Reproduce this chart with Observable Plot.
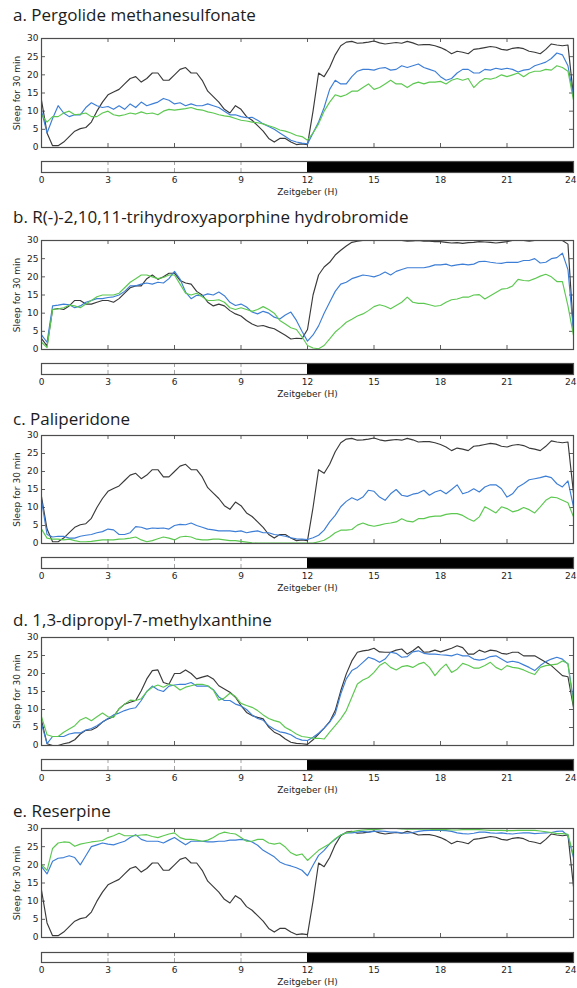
<!DOCTYPE html>
<html><head><meta charset="utf-8">
<script src="https://cdn.jsdelivr.net/npm/d3@7"></script>
<script src="https://cdn.jsdelivr.net/npm/@observablehq/plot@0.6"></script>
<style>
body{margin:0;background:#fff;}
#chart{position:relative;width:577px;height:988px;overflow:hidden;background:#fff;}
.title{position:absolute;left:13px;font-family:"Open Sans",sans-serif;font-size:17px;line-height:22px;color:#1c1c1c;white-space:nowrap;}
.plot{position:absolute;left:0;}
</style></head><body><div id="chart"></div>
<script>
// Zeitgeber time (h)
const hours = [
 0,0.25,0.5,0.75, 1,1.25,1.5,1.75, 2,2.25,2.5,2.75, 3,3.25,3.5,3.75,
 4,4.25,4.5,4.75, 5,5.25,5.5,5.75, 6,6.25,6.5,6.75, 7,7.25,7.5,7.75,
 8,8.25,8.5,8.75, 9,9.25,9.5,9.75, 10,10.25,10.5,10.75, 11,11.25,11.5,11.75,
 12,12.25,12.5,12.75, 13,13.25,13.5,13.75, 14,14.25,14.5,14.75, 15,15.25,15.5,15.75,
 16,16.25,16.5,16.75, 17,17.25,17.5,17.75, 18,18.25,18.5,18.75, 19,19.25,19.5,19.75,
 20,20.25,20.5,20.75, 21,21.25,21.5,21.75, 22,22.25,22.5,22.75, 23,23.25,23.5,23.75, 24];
const xTicks = [0,3,6,9,12,15,18,21,24];
const yTicks = [0,5,10,15,20,25,30];
const phases = [{start:0,end:12,dark:false},{start:12,end:24,dark:true}];

// control (black) shared by panels a, c, e
const control = [
 13,4,0.5,0.5, 1.5,3,4.5,5.2, 5.5,7,10,12.5, 14.5,15.3,16,17.5,
 19,19.5,18,19, 20.5,20.5,18.5,18.5, 20,21.5,22,20.5, 20.5,18.5,15.5,14,
 12.5,10.5,9.5,11.5, 10.5,8.5,7.5,6, 4.5,2.5,1.5,2.5, 2.5,1.5,0.8,1,
 0.8,10,20.5,19.5, 22,25.5,28,29, 29.2,28.7,28.8,29, 29.3,28.8,28.5,28.7,
 28.9,28.7,29.2,28.8, 28.2,28.3,28.3,28, 27.5,26.8,25.8,26.5, 26.2,25.8,27,27.2,
 27.5,27.8,27.6,27, 26.8,27.3,27.5,27.2, 26.5,26.2,25.8,27, 28.5,28.2,28,28.2, 14];
const pergolideBlue = [
 10,4,8,11.5, 9.5,8.5,9,9, 11,12.3,11.5,11, 11.3,10.5,11.5,10.5,
 12,11,12.5,11.5, 12,12.5,13.5,13, 12,12.3,11.5,12, 11.5,11.5,12,11.5,
 11,10,9,9, 8.5,8.2,8.3,7.5, 6.5,5.8,5,4, 3,2,1.5,1.2,
 1,4,7,11, 16,18.5,17.5,17.5, 19.5,21,21.5,21.5, 21.3,21.8,22,21.3,
 21.5,22.5,22,22.5, 23,22,21.5,21, 19.5,18.5,19,20.5, 21.5,21.5,20.5,20.5,
 21.5,21.3,21.8,21.5, 21.8,21.5,20.8,21.3, 21.5,22.5,23,23.5, 24.5,26,25.5,22.5, 14];
const pergolideGreen = [
 9,7,8.5,8.5, 9.5,10,9,9.2, 9.5,8.5,8.5,9.5, 10,9,8.7,9,
 9.5,9.2,9.8,9.3, 9.5,9,10,10.5, 10.3,10.5,10.7,11, 10.5,10.3,9.8,9.5,
 9,8.7,8.5,8, 7.5,7.3,7,6.8, 6.5,6,5.5,4.8, 4.5,4,3.3,3,
 2,4,6.5,10, 12.5,14.5,14,14.5, 15.5,15.5,16.5,17.5, 16,16.5,17.5,18.5,
 17.5,17.5,16.5,17.5, 18,17.5,18,18, 18.2,17.5,18.5,19, 18.5,19,16.5,18,
 19,18.8,19.2,20, 19.5,20,20.5,19.5, 20.5,21,21,21.5, 21.3,22.5,22,21, 13];
const aporphineBlack = [
 3,1,11,11.3, 11,12,13.5,13.5, 12.5,12.5,13,13.5, 13.5,13,14,15.5,
 17,17.5,17.5,19.5, 20.5,19.3,20,21, 21,19,18.3,18, 16,15,13,12,
 12.5,12,10.7,9.8, 9.2,8,7,6.4, 6.6,6.1,5.7,4.8, 3.9,2.9,3.1,3,
 5.5,15,20.5,22.7, 24,26,27.3,28.5, 29.5,29.8,30,30, 30,30,30,30,
 30,30,29.8,29.9, 30,29.8,29.8,29.7, 29.7,29.5,29.3,29.4, 29.2,29.4,29.5,29.7,
 29.6,29.5,29.3,29.5, 29.7,30,30,30, 29.8,30,30,30, 30,30,30,29, 5];
const aporphineBlue = [
 4,2,12,12.2, 12.5,12.3,11.5,12, 13,13.5,14,14, 14.3,14.5,15,16,
 17.5,17.5,18,18.3, 18,18.5,18.3,19.5, 21.5,19.4,15.8,14, 14.9,14.8,15.3,15,
 15.8,14.8,13,12.1, 12.5,11.7,10.3,9.8, 10.5,10,8.9,8.4, 9.5,10.3,8,5,
 2.3,4,6.5,10, 13,16,18,18.5, 19.5,20,20.5,20.3, 20,20.5,21.3,20.5,
 21.5,22,22.5,22.5, 22.5,22.5,22.8,23.3, 23.3,23.5,23,23.3, 23.5,23.3,23.5,24.2,
 24.3,24,23.8,23.7, 24,24,24,24.5, 24.5,25,23.8,24, 25,25.3,26.5,22, 5];
const aporphineGreen = [
 2,0.5,11,11.2, 11.5,12.2,12,11.5, 12.5,13.5,14.5,15, 15,15,15.5,17,
 18.5,19.5,20.5,20.5, 20,19.5,19.8,20.5, 20.5,18,15.5,15, 15.5,14.5,13.5,13.5,
 13.7,13,11.5,11, 11.5,11,10.5,11, 11.8,11,10,8, 7,6,5.5,3.5,
 1.1,0.4,0.2,1.1, 2.9,4.8,6.1,7.5, 8.3,9.2,9.8,10.7, 11.8,12.3,11.9,11.2,
 12.1,13,14.4,13, 12.7,12.7,12.3,11.9, 12.1,13,13.7,13.9, 14.4,14.4,15,15.1,
 13.9,14.8,15.7,16.6, 16.8,17.5,19.3,19, 18.9,19.5,20.2,20.7, 20,18.7,18.7,12, 3.9];
const paliperidoneBlue = [
 12,2.5,1.8,2, 2,1.5,1.5,2, 2.3,2.5,3,3.3, 4,3.8,2.5,2.5,
 3,4.7,4.5,4, 4.3,4.2,4.3,4, 5,5.3,5.2,5.7, 5,4.5,4,3.8,
 3.5,3.5,3.5,3.3, 3.5,3,3.3,3.5, 3,3,2.5,2.3, 2,1.6,1.3,1.2,
 1.1,1.6,2.3,3.7, 6,7.8,10.2,11.7, 12.7,12,12.9,14.8, 14.5,12.9,12,13.8,
 15,13.4,13.1,13.7, 14,14.8,13.4,14.3, 14.8,13.8,15,16.3, 13.8,14.3,15.2,14.3,
 15.7,16.3,16.3,15.2, 12.9,13.8,15.7,16.6, 17.7,18,18.3,18.7, 18.3,16.6,15.7,17.4, 10.2];
const paliperidoneGreen = [
 4,1.5,1.2,1.2, 1,1.2,0.8,0.5, 0.5,0.6,0.8,1, 1,1,1.2,1.3,
 1.5,1.8,1,0.5, 0.8,1.3,1.8,1.5, 1,1.8,2,1.8, 1.2,1,1,1.2,
 1.2,1,0.8,0.8, 0.6,0.4,0.2,0.1, 0.1,0.1,0.1,0.1, 0.1,0.1,0.1,0.1,
 0.1,0.1,0.5,0.9, 1.8,3,3.7,3.7, 3.9,5.1,5.7,5.1, 4.8,5.1,5.5,5.7,
 6,6.9,6.2,6, 6.9,6.9,7.4,7.6, 7.6,8.1,8.3,8.3, 7.8,6.9,6.2,7.4,
 10.2,9.4,8.5,10.2, 9.7,8.8,9.2,10, 9.4,8.5,10.2,12, 12.9,12.7,12,11.3, 7.4];
const xanthineBlack = [
 7,0.5,0,0, 0.5,0.8,1.6,3.2, 4.2,4.3,5.1,6.5, 7.4,8,10.2,11.5,
 12,12.5,15.2,18.5, 20.8,21,17.5,17, 20,20,21,20, 18.5,19,19.4,18.5,
 16.6,15.7,14.8,13.4, 11.1,9.2,8.3,7.8, 7.4,5.1,3.7,3, 1.8,0.9,0.6,0.5,
 0.3,1.6,3.2,4.8, 6.6,9.7,15.2,19.9, 23.5,25.9,26.3,26.5, 27,26,25.9,25.9,
 26.5,26.8,25.4,26.3, 27.5,25.9,26,26.5, 26,26.5,27,27.7, 27.2,25.4,25.4,26.5,
 25.9,26.5,26.3,25.6, 25.4,25.9,25.9,24.9, 24.9,24.9,24,23.1, 22.2,20.8,19.4,19.1, 10.6];
const xanthineBlue = [
 6,0.5,2.5,2.5, 2.5,3.2,3.5,3.5, 4.3,4.7,5.5,6.5, 7.5,8.5,9,9.7,
 10.2,10.5,12.5,15, 16.5,15.5,15,16.5, 16.8,17,17,17.5, 16.5,16.5,16.5,15.5,
 13.5,12.5,12.5,11.5, 11,10,8.5,7.5, 7,5.5,4.5,3.8, 3.5,3,2,1.5,
 1.4,2.3,3.4,4.8, 6.5,8.8,14.3,18.5, 20.8,21.7,23.1,24.5, 24,23.1,24,25.9,
 25.6,24.5,24.7,26, 26.3,25.6,25.4,25.4, 25.2,25.1,24.9,25.4, 24.9,24.9,24,23.7,
 24,24.7,24.9,24, 23.1,23.4,23.1,22.4, 21.7,20.8,22.2,23.3, 24,24.5,24,22.6, 12.5];
const xanthineGreen = [
 8,3,2.5,2.5, 3.7,4.6,5.5,7.1, 7.8,6.9,8,9, 8,7.8,10.2,11.5,
 12.6,12.5,13,15, 16.2,16.8,16.2,17, 16.6,15.4,16.2,16.6, 17,17,16.6,15.4,
 12.6,13.2,14.5,13.6, 11.7,11.1,10.6,9.7, 8.5,7.5,6.9,6.5, 5,4.2,3.2,2.5,
 2.3,2,2,1.8, 3.7,5.5,7.4,9.7, 13.4,17.1,18.2,18.9, 20.3,22.2,23.1,21.7,
 21,21.9,22.2,21.7, 22.6,23.1,21.7,19.4, 21.2,22.6,20.3,21.2, 22.8,22.3,21.5,21.5,
 22.2,23.1,21.7,21, 22.2,21.7,21.5,21, 20.3,19.7,21.7,22.2, 22.4,22.6,23.5,22.8, 11.1];
const reserpineBlue = [
 19.5,17.5,21,21.8, 22,22.5,22,20, 22.5,25,25.5,26, 25.7,25.5,26,26.5,
 27.5,28.3,27,26.5, 26.5,26.5,26,26.8, 27.5,26.5,25.5,26.5, 26.5,26.5,26.3,26.3,
 26.5,26.5,26.8,26.8, 27,26.8,26.3,25.4, 24,23.1,22.2,20.8, 20.1,19.7,19.2,18.5,
 17,19.9,22.6,24, 25.8,27,28.2,28.8, 28.8,29,29.2,29, 29.2,29.3,29.2,29,
 29,28.8,28.7,28.9, 29.2,29.4,29.5,29.5, 29.5,29.4,29.2,28.8, 28.6,28.5,28.7,29,
 29,28.8,28.7,28.8, 28.6,28.5,28.7,28.8, 28.8,28.6,28.7,28.8, 28.9,29.2,29.3,28, 22];
const reserpineGreen = [
 20,18.5,24.5,26, 26.3,26.2,25.1,25.7, 26,26.3,26.5,26.7, 27.5,28,28.7,28,
 28,28,28.2,28.3, 27.8,27.5,28,28.5, 28.8,27.5,27,27, 26.8,26.5,26.8,27.5,
 28.5,29,28.7,28.5, 27.5,26.5,26.5,27, 27,26,25.7,26, 24.9,23.3,22.6,23,
 21.2,22.6,24,24.9, 25.8,27.2,28.2,28.8, 29.1,29.4,29.6,29.7, 29.7,29.8,30,30,
 30,29.9,29.8,29.8, 29.8,29.8,29.8,29.7, 29.7,29.7,29.6,29.6, 29.7,29.7,29.7,29.7,
 29.6,29.5,29.5,29.5, 29.4,29.4,29.5,29.5, 29.5,29.5,29.3,29.1, 28.9,28.6,28.6,28.4, 22.6];

const titles = [
 "a. Pergolide methanesulfonate",
 "b. R(-)-2,10,11-trihydroxyaporphine hydrobromide",
 "c. Paliperidone",
 "d. 1,3-dipropyl-7-methylxanthine",
 "e. Reserpine"];
const seriesBlack = [control, aporphineBlack, control, xanthineBlack, control];
const seriesBlue = [pergolideBlue, aporphineBlue, paliperidoneBlue, xanthineBlue, reserpineBlue];
const seriesGreen = [pergolideGreen, aporphineGreen, paliperidoneGreen, xanthineGreen, reserpineGreen];

// layout (pixels)
const layout = [
 {titleY:15, frameTop:38, frameBottom:147, barTop:161, barBottom:172},
 {titleY:217, frameTop:240, frameBottom:349, barTop:363, barBottom:374},
 {titleY:419, frameTop:435, frameBottom:543, barTop:557, barBottom:568},
 {titleY:620, frameTop:637, frameBottom:745, barTop:759, barBottom:770},
 {titleY:811, frameTop:828, frameBottom:937, barTop:952, barBottom:962}];

const chart = document.getElementById("chart");
const W = 577, ML = 41, MR = 4;
const frameColor = "#4d4d4d", textColor = "#1e1e1e";
const style = {fontFamily:"'DejaVu Sans', sans-serif", fontSize:"9px", color:textColor, background:"transparent", overflow:"visible"};
const innerTicks = xTicks.slice(1, -1), innerY = yTicks.slice(1, -1);
const lightTicks = innerTicks.filter(t => phases.some(p => !p.dark && t > p.start && t < p.end));

titles.forEach((title, i) => {
  const L = layout[i];
  const t = document.createElement("div");
  t.className = "title";
  t.style.top = (L.titleY - 11.5) + "px";
  t.textContent = title;
  chart.appendChild(t);

  const rows = hours.map((h, j) => ({h, black: seriesBlack[i][j], blue: seriesBlue[i][j], green: seriesGreen[i][j]}));
  const mt = 8, mb = 6, fh = L.frameBottom - L.frameTop;
  const tyLen = 4 * 30 / fh, txLen = 4 * 24 / (W - ML - MR);
  const main = Plot.plot({
    width: W, height: mt + fh + mb, marginTop: mt, marginBottom: mb, marginLeft: ML, marginRight: MR,
    x: {domain: [0, 24], axis: null},
    y: {domain: [0, 30]},
    style,
    marks: [
      Plot.ruleX(innerTicks, {x: d => d, y1: 0, y2: tyLen, stroke: frameColor, strokeWidth: 0.9}),
      Plot.ruleX(innerTicks, {x: d => d, y1: 30 - tyLen, y2: 30, stroke: frameColor, strokeWidth: 0.9}),
      Plot.ruleY(innerY, {y: d => d, x1: 0, x2: txLen, stroke: frameColor, strokeWidth: 0.9}),
      Plot.ruleY(innerY, {y: d => d, x1: 24 - txLen, x2: 24, stroke: frameColor, strokeWidth: 0.9}),
      Plot.line(rows, {x: "h", y: "black", stroke: "#3a3a3a", strokeWidth: 1.15}),
      Plot.line(rows, {x: "h", y: "blue", stroke: "#3d7ed6", strokeWidth: 1.15}),
      Plot.line(rows, {x: "h", y: "green", stroke: "#5cc850", strokeWidth: 1.15}),
      Plot.frame({stroke: frameColor, strokeWidth: 1.2}),
      Plot.axisY(yTicks, {tickSize: 0, tickPadding: 3, label: null, fontSize: 9}),
      Plot.text(["Sleep for 30 min"], {frameAnchor: "left", textAnchor: "middle", lineAnchor: "middle", rotate: -90, dx: -24, fontSize: 9, fill: textColor})
    ]
  });
  main.classList.add("plot");
  main.style.top = (L.frameTop - mt) + "px";
  chart.appendChild(main);

  const bh = L.barBottom - L.barTop, bmt = 2, bmb = 30;
  const bLen = 4 / bh;
  const bar = Plot.plot({
    width: W, height: bmt + bh + bmb, marginTop: bmt, marginBottom: bmb, marginLeft: ML, marginRight: MR,
    x: {domain: [0, 24], axis: null},
    y: {domain: [0, 1], axis: null},
    style,
    marks: [
      Plot.rect(phases.filter(d => !d.dark), {x1: "start", x2: "end", y1: 0, y2: 1, fill: "white"}),
      Plot.rect(phases.filter(d => d.dark), {x1: "start", x2: "end", y1: 0, y2: 1, fill: "black"}),
      Plot.ruleX(lightTicks, {x: d => d, y1: 0, y2: bLen, stroke: "#999", strokeWidth: 0.9}),
      Plot.ruleX(lightTicks, {x: d => d, y1: 1 - bLen, y2: 1, stroke: "#999", strokeWidth: 0.9}),
      Plot.frame({stroke: frameColor, strokeWidth: 1.2}),
      Plot.text(xTicks.slice(0, -1), {x: d => d, frameAnchor: "bottom", lineAnchor: "middle", dy: 8, fontSize: 9, fill: textColor}),
      Plot.text(xTicks.slice(-1), {x: d => d, frameAnchor: "bottom", lineAnchor: "middle", textAnchor: "end", dy: 8, dx: 3, fontSize: 9, fill: textColor}),
      Plot.text(["Zeitgeber (H)"], {frameAnchor: "bottom", lineAnchor: "middle", dy: 20, fontSize: 9, fill: textColor})
    ]
  });
  bar.classList.add("plot");
  bar.style.top = (L.barTop - bmt) + "px";
  chart.appendChild(bar);
});
</script></body></html>
